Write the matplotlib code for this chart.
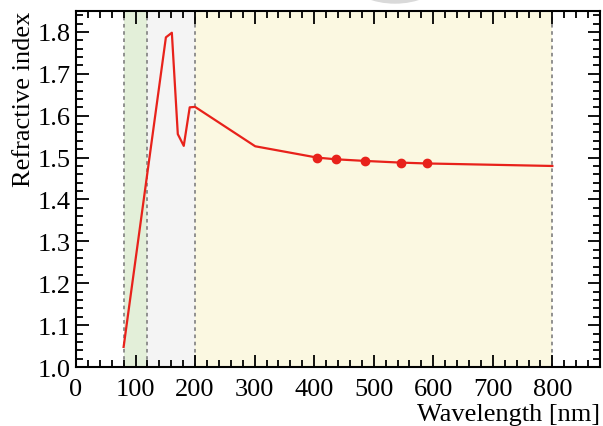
import numpy as np
import matplotlib.pyplot as plt
from matplotlib.patches import Circle
from matplotlib.ticker import MultipleLocator

# refractive index curve
wl = [80, 151, 161, 171, 181, 191, 200, 301, 405, 436, 486, 546, 589, 800]
n = [1.048, 1.787, 1.798, 1.556, 1.528, 1.620, 1.621, 1.527,
     1.500, 1.496, 1.492, 1.488, 1.486, 1.480]

# measured lines
wl_meas = [405, 436, 486, 546, 589]
n_meas = [1.500, 1.496, 1.492, 1.488, 1.486]

# spectral bands
band_edges = [80, 120, 200, 800]
band_colors = ['#e3efd9', '#f4f4f4', '#fbf8e1']

plt.rcParams['font.family'] = ['Liberation Serif', 'DejaVu Serif']
plt.rcParams['font.size'] = 19

fig = plt.figure(figsize=(6.03, 4.27), dpi=100)
ax = fig.add_axes([0.126, 0.138, 0.869, 0.834])

for i in range(len(band_colors)):
    ax.axvspan(band_edges[i], band_edges[i+1], color=band_colors[i], lw=0, zorder=0)
for x in band_edges:
    ax.axvline(x, color='#888888', ls=(0, (2, 2)), lw=1.3, zorder=1)

ax.plot(wl, n, color='#e8221b', lw=1.6, zorder=3)
ax.plot(wl_meas, n_meas, 'o', color='#e8221b', ms=6, zorder=4)

ax.set_xlim(0, 880)
ax.set_ylim(1.0, 1.85)
ax.xaxis.set_major_locator(MultipleLocator(100))
ax.xaxis.set_minor_locator(MultipleLocator(20))
ax.yaxis.set_major_locator(MultipleLocator(0.1))
ax.yaxis.set_minor_locator(MultipleLocator(0.02))
ax.tick_params(which='both', direction='in', top=True, right=True, width=1.3)
ax.tick_params(which='major', length=9)
ax.tick_params(which='minor', length=5)
ax.tick_params(axis='x', pad=8)
for s in ax.spines.values():
    s.set_linewidth(1.5)

ax.set_xlabel('Wavelength [nm]', loc='right', labelpad=2)
ax.set_ylabel('Refractive index', loc='top', labelpad=2)

# grey blob peeking in at the top edge
fig.patches.append(Circle((395, 427 + 76), 80, transform=None,
                          color='#d9d9d9', zorder=10))

fig.savefig('out.png', dpi=100)
